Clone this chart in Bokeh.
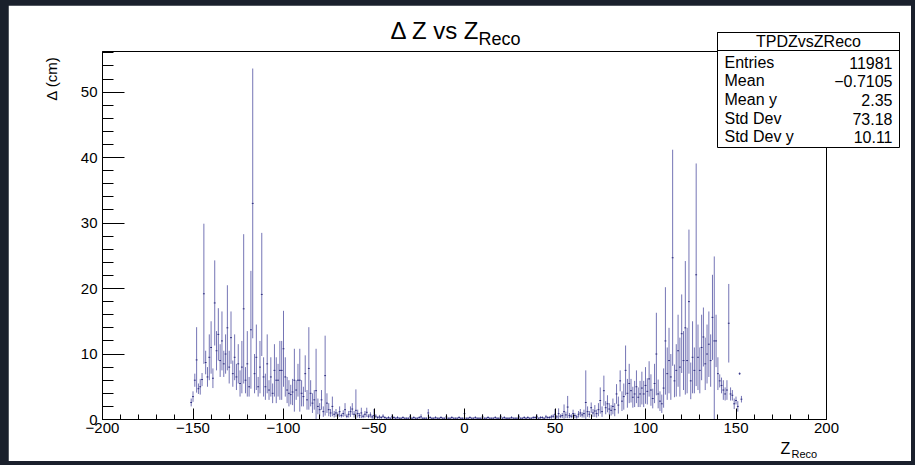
from bokeh.plotting import figure
from bokeh.models import FixedTicker, Label, BoxAnnotation, ColumnDataSource, Range1d
from bokeh.embed import file_html
from bokeh.resources import INLINE

# ---------------- data ----------------
z_first = -151          # first bin centre (bin width 1 cm)
z_last = 153

mean_dz = [
    2.6, 3.5, 6.0, 9.1, 4.7, 5.0, 6.1, 19.2, 8.7, 6.5,        # -151..-142
    9.5, 11.0, 6.3, 17.8, 10.5, 13.0, 9.0, 12.0, 8.5, 10.0,   # -141..-132
    14.0, 8.0, 12.5, 7.0, 9.5, 6.5, 8.5, 5.5, 8.0, 16.9,      # -131..-122
    6.0, 8.5, 5.0, 13.7, 33.0, 7.0, 9.5, 5.0, 8.0, 19.1,      # -121..-112
    6.5, 5.0, 8.5, 4.5, 6.5, 4.0, 7.5, 6.0, 6.0, 7.5,         # -111..-102
    7.5, 10.8, 6.5, 4.5, 4.0, 3.8, 4.2, 6.0, 4.5, 6.0,        # -101..-92
    6.0, 4.0, 3.5, 7.0, 3.0, 7.8, 4.0, 2.5, 3.0, 4.4,         # -91..-82
    2.0, 1.5, 3.0, 1.2, 6.7, 2.5, 1.5, 1.0, 2.0, 0.8,         # -81..-72
    1.0, 0.7, 1.2, 0.6, 0.9, 1.5, 0.5, 0.8, 1.2, 1.6,         # -71..-62
    0.8, 1.4, 0.9, 0.6, 1.0, 0.5, 0.8, 1.1, 0.5, 0.7,         # -61..-52
    0.4, 0.6, 0.5, 0.3, 0.4, 0.3, 0.5, 0.3, 0.2, 0.3,         # -51..-42
    0.2, 0.4, 0.3, 0.2, 0.3, 0.2, 0.2, 0.3, 0.2, 0.2,         # -41..-32
    0.2, 0.4, 0.2, 0.3, 0.2, 0.2, 0.3, 0.4, 0.2, 0.2,         # -31..-22
    0.2, 1.0, 0.3, 0.2, 0.2, 0.3, 0.2, 0.2, 0.3, 0.2,         # -21..-12
    0.2, 0.4, 0.2, 0.2, 0.3, 0.2, 0.2, 0.2, 0.3, 0.2,         # -11..-2
    0.2, 0.9, 0.2, 0.2, 0.3, 0.2, 0.2, 0.3, 0.2, 0.2,         # -1..8
    0.2, 0.4, 0.2, 0.2, 0.3, 0.2, 0.2, 0.2, 0.3, 0.2,         # 9..18
    0.2, 0.4, 0.2, 0.3, 0.2, 0.2, 0.2, 0.3, 0.2, 0.2,         # 19..28
    0.2, 0.4, 0.2, 0.2, 0.3, 0.2, 0.3, 0.2, 0.2, 0.3,         # 29..38
    0.3, 0.4, 0.2, 0.3, 0.3, 0.2, 0.4, 0.3, 0.3, 0.4,         # 39..48
    0.5, 0.8, 0.4, 0.9, 0.5, 0.6, 1.2, 0.7, 1.9, 0.6,         # 49..58
    0.5, 0.9, 0.6, 0.4, 0.8, 1.0, 0.7, 0.9, 2.6, 1.2,         # 59..68
    0.8, 1.8, 1.0, 1.3, 0.9, 1.5, 2.9, 1.2, 4.4, 1.8,         # 69..78
    2.4, 1.6, 1.4, 2.0, 1.5, 3.9, 2.2, 5.9, 2.8, 3.5,         # 79..88
    7.5, 4.0, 5.5, 4.4, 3.4, 3.9, 5.0, 3.4, 3.9, 4.8,         # 89..98
    3.9, 5.2, 4.3, 6.2, 4.5, 3.2, 5.5, 10.0, 3.9, 2.8,        # 99..108
    2.4, 4.8, 12.0, 7.0, 9.0, 6.5, 24.7, 5.9, 7.5, 10.5,      # 109..118
    8.0, 13.1, 9.0, 14.0, 9.0, 18.0, 5.9, 9.5, 7.5, 22.1,     # 119..128
    9.5, 7.5, 11.0, 12.6, 8.5, 10.0, 11.5, 9.0, 15.6, 12.0,   # 129..138
    12.0, 7.0, 5.9, 5.2, 4.5, 3.9, 4.5, 14.7, 3.9, 3.7,       # 139..148
    2.4, 2.9, 2.0, 7.0, 3.1,                                  # 149..153
]

err_dz = [
    0.6, 0.8, 1.0, 5.0, 0.8, 1.2, 1.0, 10.7, 1.8, 1.5,
    3.5, 4.0, 1.5, 6.5, 3.0, 4.0, 2.5, 4.5, 2.0, 3.0,
    6.5, 2.5, 4.0, 2.0, 3.5, 2.0, 3.0, 2.0, 4.0, 11.4,
    2.0, 5.0, 1.5, 9.0, 20.6, 3.0, 5.0, 1.5, 4.0, 9.4,
    3.0, 2.0, 4.5, 1.5, 3.0, 1.5, 4.0, 3.5, 2.5, 4.5,
    4.5, 5.8, 3.0, 2.0, 2.0, 1.5, 2.0, 4.8, 1.5, 2.5,
    4.8, 2.0, 1.5, 2.8, 1.5, 6.3, 2.0, 1.5, 1.5, 6.4,
    1.2, 1.0, 1.5, 0.8, 6.1, 1.5, 1.0, 0.6, 1.5, 0.5,
    0.6, 0.4, 0.8, 0.3, 0.5, 1.0, 0.3, 0.5, 0.8, 0.9,
    0.5, 3.2, 0.6, 0.4, 0.8, 0.3, 0.5, 0.7, 0.3, 0.4,
    0.3, 1.0, 0.3, 0.2, 0.3, 0.2, 0.3, 0.2, 0.1, 0.2,
    0.1, 0.4, 0.2, 0.1, 0.2, 0.1, 0.1, 0.2, 0.1, 0.1,
    0.1, 0.4, 0.1, 0.2, 0.1, 0.1, 0.2, 0.4, 0.1, 0.1,
    0.1, 0.6, 0.2, 0.1, 0.1, 0.2, 0.1, 0.1, 0.2, 0.1,
    0.1, 0.4, 0.1, 0.1, 0.2, 0.1, 0.1, 0.1, 0.2, 0.1,
    0.1, 0.7, 0.1, 0.1, 0.2, 0.1, 0.1, 0.2, 0.1, 0.1,
    0.1, 0.4, 0.1, 0.1, 0.2, 0.1, 0.1, 0.1, 0.2, 0.1,
    0.1, 0.4, 0.1, 0.2, 0.1, 0.1, 0.1, 0.2, 0.1, 0.1,
    0.1, 0.4, 0.1, 0.1, 0.2, 0.1, 0.2, 0.1, 0.1, 0.2,
    0.2, 0.4, 0.1, 0.2, 0.2, 0.1, 0.3, 0.2, 0.2, 0.3,
    0.3, 0.8, 0.3, 0.8, 0.3, 0.4, 1.1, 0.5, 1.7, 0.4,
    0.3, 0.6, 0.4, 0.3, 0.5, 0.6, 0.4, 0.6, 4.9, 0.8,
    0.5, 0.8, 0.6, 0.9, 0.6, 1.0, 2.0, 0.8, 2.3, 1.0,
    1.3, 0.9, 0.8, 1.2, 1.0, 1.5, 1.3, 1.6, 1.5, 2.0,
    3.8, 2.2, 3.0, 1.8, 1.6, 2.0, 2.5, 1.5, 2.0, 2.5,
    2.0, 2.8, 2.0, 2.7, 2.4, 1.5, 3.0, 6.3, 2.2, 1.5,
    1.4, 3.0, 8.2, 4.0, 5.0, 3.5, 16.5, 2.5, 4.0, 5.5,
    4.5, 6.0, 4.5, 10.2, 5.0, 11.0, 2.8, 5.5, 3.5, 17.0,
    5.0, 3.5, 5.0, 4.5, 4.0, 4.5, 5.0, 4.0, 6.5, 12.9,
    4.0, 2.5, 1.0, 1.2, 1.5, 1.0, 1.5, 6.0, 1.0, 0.8,
    0.8, 0.6, 0.8, 0.2, 0.5,
]

x_ticks = [-200, -150, -100, -50, 0, 50, 100, 150, 200]
x_tick_labels = ["\u2212200", "\u2212150", "\u2212100", "\u221250", "0", "50", "100", "150", "200"]
y_ticks = [0, 10, 20, 30, 40, 50]

stats_title = "TPDZvsZReco"
stats_names = ["Entries", "Mean", "Mean y", "Std Dev", "Std Dev y"]
stats_values = ["11981", "\u22120.7105", "2.35", "73.18", "10.11"]

# ---------------- build ----------------
z = list(range(z_first, z_last + 1))
assert len(z) == len(mean_dz) == len(err_dz)

src = ColumnDataSource(dict(
    z=z,
    zl=[v - 0.5 for v in z],
    zr=[v + 0.5 for v in z],
    m=mean_dz,
    lo=[m - e for m, e in zip(mean_dz, err_dz)],
    hi=[m + e for m, e in zip(mean_dz, err_dz)],
))

# canvas placed at page (8,5); size 903 x 456
OX, OY, W, H = 8, 5, 903, 456
XMIN, XMAX, YMIN, YMAX = -200, 200, 0, 56.2
FL, FR, FT, FB = 102, 826, 51, 419   # frame edges in page pixels

p = figure(width=W, height=H, x_range=(XMIN, XMAX), y_range=(YMIN, YMAX),
           output_backend="svg", toolbar_location=None, title=None,
           min_border_left=FL - OX, min_border_right=OX + W - FR,
           min_border_top=FT - OY, min_border_bottom=OY + H - FB)

p.background_fill_color = "white"
p.border_fill_color = "white"
p.outline_line_color = "black"
p.outline_line_width = 1
p.grid.visible = False

bar_color = "#5252a3"
p.segment(x0="z", y0="lo", x1="z", y1="hi", source=src, line_color=bar_color,
          line_width=1, line_alpha=0.8)
p.segment(x0="zl", y0="m", x1="zr", y1="m", source=src, line_color="#2e2e80",
          line_width=1)

FONT = "Liberation Sans"
xax = p.xaxis[0]
xax.ticker = FixedTicker(ticks=x_ticks, minor_ticks=list(range(-200, 201, 10)))
xax.major_label_overrides = {t: l for t, l in zip(x_ticks, x_tick_labels)}
yax = p.yaxis[0]
yax.ticker = FixedTicker(ticks=y_ticks, minor_ticks=[v * 2 for v in range(0, 29)])

for ax in (xax, yax):
    ax.axis_line_color = "black"
    ax.major_tick_line_color = "black"
    ax.minor_tick_line_color = "black"
    ax.major_tick_out = 0
    ax.minor_tick_out = 0
    ax.major_label_text_font = FONT
    ax.major_label_text_font_size = "15px"
    ax.major_label_text_color = "black"
xax.major_tick_in = 11
xax.minor_tick_in = 5
xax.major_label_standoff = 3
yax.major_tick_in = 22
yax.minor_tick_in = 11
yax.major_label_standoff = 5

# ---------- transparent overlay canvas (separate root) for texts outside the frame ----------
ov = figure(width=W, height=H, x_range=Range1d(OX, OX + W), y_range=Range1d(OY + H, OY),
            x_axis_type=None, y_axis_type=None, output_backend="svg",
            toolbar_location=None, title=None, min_border=0,
            min_border_left=0, min_border_right=0, min_border_top=0, min_border_bottom=0)
ov.outline_line_color = None
ov.background_fill_alpha = 0
ov.border_fill_alpha = 0
ov.styles = {"position": "absolute", "left": "%dpx" % OX, "top": "%dpx" % OY}
ov.css_classes = ["ovl"]

def lab(x, y, text, size, align="left", baseline="alphabetic", angle=0.0):
    ov.add_layout(Label(x=x, y=y, text=text, text_font=FONT, text_font_size=size,
                        text_align=align, text_baseline=baseline, angle=angle,
                        text_color="black"))

# title  "Δ Z vs Z_Reco"
lab(390, 30, "\u0394 Z vs Z", "24px")
lab(478, 38, "Reco", "18px")

# axis titles
lab(51, 56, "\u0394 (cm)", "15px", align="right", baseline="middle", angle=1.5707963)
lab(780, 448, "Z", "16px")
lab(791, 453, "Reco", "11px")

# statistics box
ov.add_layout(BoxAnnotation(left=717, right=899, top=32, bottom=147,
                            fill_color="white", fill_alpha=1.0, line_color="black",
                            line_width=1, line_alpha=1.0))
ov.add_layout(BoxAnnotation(left=717, right=899, top=32, bottom=50,
                            fill_alpha=0.0, line_color="black", line_width=1, line_alpha=1.0))
lab(808, 41, stats_title, "16px", align="center", baseline="middle")
row_y = [62, 80, 99, 118, 136]
for name, val, ry in zip(stats_names, stats_values, row_y):
    lab(724, ry, name, "16px", baseline="middle")
    lab(892, ry, val, "16px", align="right", baseline="middle")

html = file_html([p, ov], INLINE)
css = ("<style>html,body{background-color:#1a202c !important;}"
       "body{margin:0 !important;padding:%dpx 0 0 %dpx !important;}"
       ".ovl{position:absolute !important;left:%dpx !important;top:%dpx !important;}"
       "</style></head>" % (OY, OX, OX, OY))
html = html.replace("</head>", css, 1)
open("out.html", "w").write(html)
